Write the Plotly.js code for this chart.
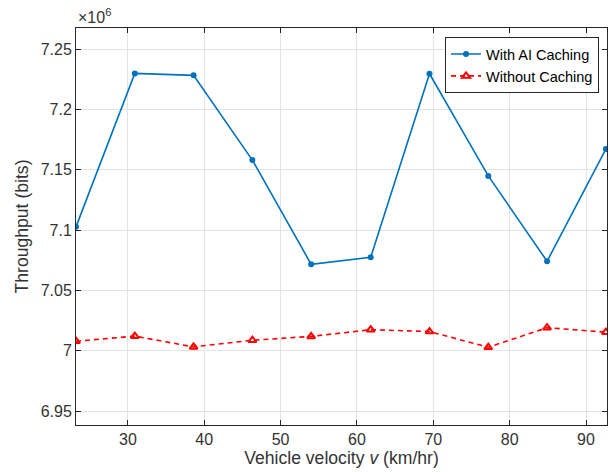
<!DOCTYPE html>
<html><head><meta charset="utf-8">
<script src="https://cdn.plot.ly/plotly-3.0.1.min.js"></script>
<style>body{margin:0;background:#fff}#c{width:611px;height:472px}</style>
</head><body><div id="c"></div>
<script>
const velocity = [23.2, 30.9, 38.6, 46.3, 54.0, 61.8, 69.5, 77.2, 84.9, 92.6];
const withAICaching = [7.1027, 7.2298, 7.2282, 7.1580, 7.0717, 7.0775, 7.2295, 7.1449, 7.0742, 7.1671];
const withoutCaching = [7.0080, 7.0122, 7.0033, 7.0088, 7.0120, 7.0175, 7.0160, 7.0030, 7.0192, 7.0155];
const yTicks = [6.95, 7, 7.05, 7.1, 7.15, 7.2, 7.25];
const yTickLabels = ['6.95', '7', '7.05', '7.1', '7.15', '7.2', '7.25'];
const xTicks = [30, 40, 50, 60, 70, 80, 90];

const font = 'Liberation Sans, Arial, Helvetica, sans-serif';
const traces = [
  {x: velocity, y: withAICaching, name: 'With AI Caching', mode: 'lines+markers',
   line: {color: '#0072BD', width: 1.6}, marker: {symbol: 'circle', size: 6, color: '#0072BD'}},
  {x: velocity, y: withoutCaching, name: 'Without Caching', mode: 'lines+markers',
   line: {color: '#FF0000', width: 1.6, dash: '5px,4px'},
   marker: {symbol: 'triangle-up-open', size: 7, color: '#FF0000', line: {width: 2, color: '#FF0000'}}}
];
const axisCommon = {
  showgrid: true, gridcolor: '#e3e3e3', gridwidth: 1,
  showline: true, linecolor: '#262626', linewidth: 1, mirror: 'allticks',
  ticks: 'inside', ticklen: 5, tickcolor: '#262626', zeroline: false,
  tickfont: {family: font, size: 16, color: '#333333'}
};
const layout = {
  width: 611, height: 472, margin: {l: 76, r: 4, t: 28, b: 47},
  paper_bgcolor: '#fff', plot_bgcolor: '#fff', showlegend: true,
  xaxis: Object.assign({}, axisCommon, {range: [23.2, 92.75], tickvals: xTicks,
    title: {text: 'Vehicle velocity <i>v</i> (km/hr)', font: {family: font, size: 17.6, color: '#333333'}, standoff: 4}}),
  yaxis: Object.assign({}, axisCommon, {range: [6.9386, 7.2674], tickvals: yTicks, ticktext: yTickLabels,
    title: {text: 'Throughput (bits)', font: {family: font, size: 17.6, color: '#333333'}, standoff: 7}}),
  legend: {x: 0.985, y: 0.977, xanchor: 'right', yanchor: 'top', bgcolor: '#fff',
    bordercolor: '#262626', borderwidth: 1, font: {family: font, size: 14.5, color: '#000'},
    tracegroupgap: 0, itemwidth: 30},
  annotations: [{xref: 'paper', yref: 'paper', x: 0, y: 1, xanchor: 'left', yanchor: 'bottom',
    text: '×10<sup>6</sup>', showarrow: false, font: {family: font, size: 16, color: '#333333'}, yshift: 0}]
};
Plotly.newPlot('c', traces, layout, {displayModeBar: false, staticPlot: true});
</script></body></html>
